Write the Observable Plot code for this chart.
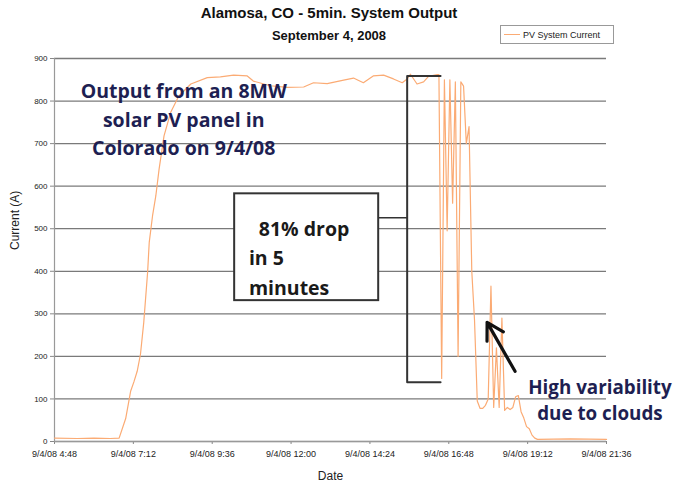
<!DOCTYPE html>
<html><head><meta charset="utf-8">
<script src="https://cdn.jsdelivr.net/npm/d3@7"></script>
<script src="https://cdn.jsdelivr.net/npm/@observablehq/plot@0.6"></script>
<style>
body{margin:0;background:#fff;font-family:"Liberation Sans",Arial,sans-serif;}
#wrap{position:relative;width:675px;height:486px;overflow:hidden;}
#head{position:relative;height:48px;}
.t1{position:absolute;left:0;width:658px;top:4px;text-align:center;font-weight:bold;font-size:15px;line-height:18px;color:#111;}
.t2{position:absolute;left:0;width:658px;top:28px;text-align:center;font-weight:bold;font-size:13px;line-height:16px;color:#111;}
#legend{position:absolute;left:500px;top:25px;width:114px;height:19px;border:1px solid #999;box-sizing:border-box;font-size:9px;display:flex;align-items:center;color:#222;white-space:nowrap;}
#legend .sw{display:inline-block;width:16px;height:1.5px;background:#fbab74;margin:0 3px 0 3px;}
</style></head>
<body>
<div id="wrap">
 <div id="head">
  <div class="t1">Alamosa, CO - 5min. System Output</div>
  <div class="t2">September 4, 2008</div>
  <div id="legend"><span class="sw"></span><span>PV System Current</span></div>
 </div>
 <div id="chart"></div>
</div>
<script>
// ---- data ----
const times = ["4:48","5:30","6:00","6:30","6:46","6:58","7:07","7:13","7:19","7:25","7:31","7:38","7:41","7:47","7:53","7:59","8:08","8:20","8:35","8:57","9:27","9:51","10:15","10:40","10:51","11:22","11:53","12:23","12:41","13:06","13:36","13:54","14:12","14:30","14:49","15:07","15:23","15:32","15:38","15:50","16:02","16:11","16:27","16:30","16:35","16:40","16:45","16:50","16:55","17:00","17:05","17:10","17:15","17:20","17:25","17:30","17:35","17:40","17:45","17:50","17:55","18:00","18:05","18:10","18:15","18:20","18:25","18:30","18:35","18:40","18:45","18:50","18:55","19:00","19:05","19:10","19:15","19:20","19:25","19:30","20:30","21:36"];
const current = [8,7,8,7,8,54,118,140,165,205,280,397,468,530,577,640,718,773,812,840,855,857,861,859,847,836,832,833,843,841,849,854,843,859,861,852,843,852,863,840,845,858,862,862,148,850,495,850,560,845,200,845,835,700,740,400,285,95,78,78,85,100,365,80,220,80,290,73,80,75,80,105,108,70,55,35,30,15,8,5,6,5];
const xTickLabels = ["4:48","7:12","9:36","12:00","14:24","16:48","19:12","21:36"];
const yTicks = [0,100,200,300,400,500,600,700,800,900];

// annotations (data coordinates)
const bracketTimes = ["16:33","15:32","15:32","16:33"];
const bracketVals = [859,859,139,139];
const connectorTimes = ["14:40","15:32"];
const connectorVals = [526,526];
const boxTimes = ["10:17","14:40"];
const boxVals = [331,582];
const arrowFrom = {t:"18:49", v:165};
const arrowTo = {t:"17:58", v:280};
const noteMain = {t:"8:44", v:761, text:"Output from an 8MW\nsolar PV panel in\nColorado on 9/4/08"};
const boxLines = [
  {t:"11:01", v:498, text:"81% drop"},
  {t:"10:43", v:430, text:"in 5"},
  {t:"10:43", v:359, text:"minutes"}
];
const noteVar = {t:"21:24", v:100, text:"High variability\ndue to clouds"};

// ---- helpers ----
const toH = s => { const [h,m] = s.split(":").map(Number); return h + m/60; };
const fmt = h => { const hh = Math.floor(h + 1e-9); const mm = Math.round((h - hh)*60); return `9/4/08 ${hh}:${String(mm).padStart(2,"0")}`; };

const series = times.map((t,i) => ({x: toH(t), y: current[i]}));
const xTicks = xTickLabels.map(toH);
const bracket = bracketTimes.map((t,i) => ({x: toH(t), y: bracketVals[i]}));
const connector = connectorTimes.map((t,i) => ({x: toH(t), y: connectorVals[i]}));
const xmin = xTicks[0], xmax = xTicks[xTicks.length-1];

const navy = "#1e1f52";
const annFont = "'Open Sans', Lato, sans-serif";
const annSize = 19.5;

const chart = Plot.plot({
  width: 675, height: 438,
  marginTop: 10, marginBottom: 45, marginLeft: 54, marginRight: 69,
  style: {fontFamily: "'Liberation Sans', Arial, sans-serif", fontSize: "8px", color: "#222", background: "transparent", overflow: "visible"},
  x: {domain: [xmin, xmax]},
  y: {domain: [0, 900]},
  marks: [
    Plot.gridY(yTicks, {stroke: "#7a7a7a", strokeOpacity: 1, strokeWidth: 1.3}),
    Plot.axisY(yTicks, {tickSize: 4, tickPadding: 3, label: null, stroke: "#888", fontSize: 8}),
    Plot.axisX(xTicks, {tickSize: 3, tickPadding: 6, label: null, tickFormat: fmt, stroke: "#888", fontSize: 9}),
    Plot.ruleY([0], {stroke: "#999", strokeWidth: 1.2}),
    Plot.ruleX([xmin], {stroke: "#999", strokeWidth: 1.2}),
    Plot.text(["Current (A)"], {frameAnchor: "left", dx: -39, rotate: -90, fontSize: 12, fill: "#222"}),
    Plot.text(["Date"], {frameAnchor: "bottom", dy: 38, fontSize: 12, fill: "#222"}),
    Plot.rect([{x1: toH(boxTimes[0]), x2: toH(boxTimes[1]), y1: boxVals[0], y2: boxVals[1]}],
      {x1: "x1", x2: "x2", y1: "y1", y2: "y2", fill: "white", stroke: "#333", strokeWidth: 2}),
    Plot.line(series, {x: "x", y: "y", stroke: "#fbab74", strokeWidth: 1.2}),
    Plot.line(bracket, {x: "x", y: "y", stroke: "#333", strokeWidth: 2}),
    Plot.line(connector, {x: "x", y: "y", stroke: "#333", strokeWidth: 1.5}),
    Plot.arrow([0], {x1: toH(arrowFrom.t), y1: arrowFrom.v, x2: toH(arrowTo.t), y2: arrowTo.v,
      stroke: "#111", strokeWidth: 3.2, headLength: 14, bend: 0}),
    Plot.text([noteMain], {x: d => toH(d.t), y: "v", text: "text", fontSize: annSize, fontWeight: "bold",
      fontFamily: annFont, fill: navy, lineHeight: 1.46}),
    Plot.text(boxLines, {x: d => toH(d.t), y: "v", text: "text", textAnchor: "start", fontSize: annSize,
      fontWeight: "bold", fontFamily: annFont, fill: "#1a1a1a"}),
    Plot.text([noteVar], {x: d => toH(d.t), y: "v", text: "text", fontSize: 18.8, fontWeight: "bold",
      fontFamily: annFont, fill: navy, lineHeight: 1.38})
  ]
});
document.getElementById("chart").appendChild(chart);
</script>
</body></html>
